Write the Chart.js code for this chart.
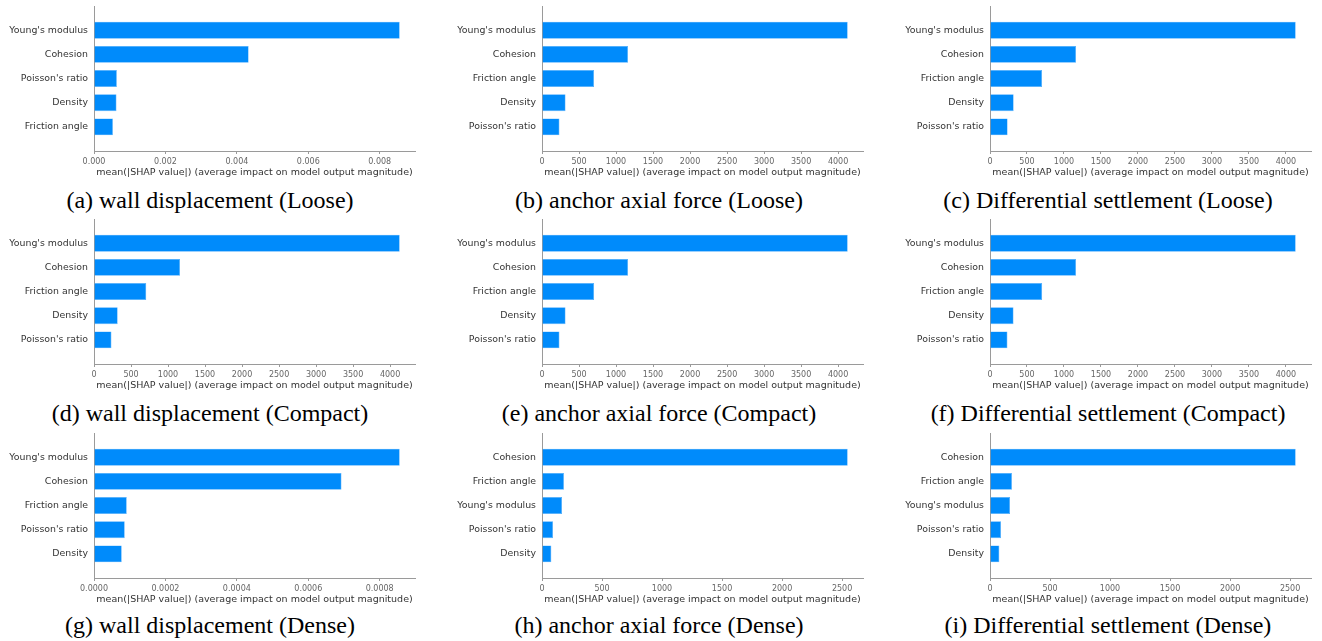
<!DOCTYPE html>
<html>
<head>
<meta charset="utf-8">
<script src="https://cdn.jsdelivr.net/npm/chart.js@4"></script>
<style>
  body { margin: 0; background: #fff; width: 1322px; height: 641px; position: relative; overflow: hidden; }
  .painel { position: absolute; width: 423px; height: 181px; }
  .legenda {
    position: absolute; width: 440px; text-align: center;
    font-family: "Liberation Serif", "Times New Roman", serif; font-size: 24px; color: #000;
    line-height: 26px; white-space: nowrap;
  }
</style>
</head>
<body>
<script>
// Nomes das variáveis (ordem de importância em cada gráfico)
const ordemWallLoose = ["Young's modulus", "Cohesion", "Poisson's ratio", "Density", "Friction angle"];
const ordemLoose = ["Young's modulus", "Cohesion", "Friction angle", "Density", "Poisson's ratio"];
const ordemCompact = ["Young's modulus", "Cohesion", "Friction angle", "Density", "Poisson's ratio"];
const ordemWallDense = ["Young's modulus", "Cohesion", "Friction angle", "Poisson's ratio", "Density"];
const ordemDense = ["Cohesion", "Friction angle", "Young's modulus", "Poisson's ratio", "Density"];

// mean(|SHAP|) de cada variável
const shapWallLoose = [0.00856, 0.00433, 0.00064, 0.00063, 0.00053];
const shapAnchorLoose = [4130, 1162, 703, 318, 236];
const shapSettleLoose = [4132, 1163, 704, 320, 238];
const shapWallCompact = [4130, 1162, 706, 320, 236];
const shapAnchorCompact = [4130, 1163, 704, 318, 236];
const shapSettleCompact = [4132, 1163, 705, 318, 236];
const shapWallDense = [0.000856, 0.000693, 0.0000917, 0.0000861, 0.0000777];
const shapAnchorDense = [2547, 183, 167, 92, 78];
const shapSettleDense = [2547, 183, 167, 92, 78];

// Marcas do eixo x
const ticksWallLoose = [0, 0.002, 0.004, 0.006, 0.008];
const ticksMil = [0, 500, 1000, 1500, 2000, 2500, 3000, 3500, 4000];
const ticksWallDense = [0, 0.0002, 0.0004, 0.0006, 0.0008];
const ticksDense = [0, 500, 1000, 1500, 2000, 2500];

const legendas = [
    "(a) wall displacement (Loose)", "(b) anchor axial force (Loose)", "(c) Differential settlement (Loose)",
    "(d) wall displacement (Compact)", "(e) anchor axial force (Compact)", "(f) Differential settlement (Compact)",
    "(g) wall displacement (Dense)", "(h) anchor axial force (Dense)", "(i) Differential settlement (Dense)"
];

const paineis = [
    { nomes: ordemWallLoose, valores: shapWallLoose, ticks: ticksWallLoose, casas: 3 },
    { nomes: ordemLoose, valores: shapAnchorLoose, ticks: ticksMil, casas: 0 },
    { nomes: ordemLoose, valores: shapSettleLoose, ticks: ticksMil, casas: 0 },
    { nomes: ordemCompact, valores: shapWallCompact, ticks: ticksMil, casas: 0 },
    { nomes: ordemCompact, valores: shapAnchorCompact, ticks: ticksMil, casas: 0 },
    { nomes: ordemCompact, valores: shapSettleCompact, ticks: ticksMil, casas: 0 },
    { nomes: ordemWallDense, valores: shapWallDense, ticks: ticksWallDense, casas: 4 },
    { nomes: ordemDense, valores: shapAnchorDense, ticks: ticksDense, casas: 0 },
    { nomes: ordemDense, valores: shapSettleDense, ticks: ticksDense, casas: 0 }
];

const colunasX = [0, 448, 896];
const linhasY = [0, 213, 427];
const centrosLegenda = [210, 659, 1108];
const linhasLegenda = [200, 413, 625];

const corBarra = '#008bfb';
const corEixo = '#9a9a9a';
const fonteEixo = '"DejaVu Sans", sans-serif';

function criarPainel(p, i) {
    const col = i % 3, lin = Math.floor(i / 3);

    const div = document.createElement('div');
    div.className = 'painel';
    div.style.left = colunasX[col] + 'px';
    div.style.top = linhasY[lin] + 'px';
    div.innerHTML = '<canvas></canvas>';
    document.body.appendChild(div);

    const leg = document.createElement('div');
    leg.className = 'legenda';
    leg.style.left = (centrosLegenda[col] - 220) + 'px';
    leg.style.top = (linhasLegenda[lin] - 13) + 'px';
    leg.textContent = legendas[i];
    document.body.appendChild(leg);

    // categorias vazias nas pontas deixam uma folga de uma barra em cima e embaixo
    const labels = ['', ...p.nomes, ''];
    const dados = [null, ...p.valores, null];

    new Chart(div.querySelector('canvas'), {
        type: 'bar',
        data: {
            labels: labels,
            datasets: [{
                data: dados,
                backgroundColor: corBarra,
                borderColor: '#4fadfc',
                borderWidth: 0.6,
                categoryPercentage: 1,
                barPercentage: 0.7
            }]
        },
        options: {
            indexAxis: 'y',
            responsive: true,
            maintainAspectRatio: false,
            animation: false,
            layout: { padding: { top: 6, right: 8, left: 0, bottom: 0 } },
            plugins: { legend: { display: false }, tooltip: { enabled: false } },
            scales: {
                y: {
                    type: 'category',
                    offset: false,
                    // largura fixa e sem folga extra dos rótulos nas pontas
                    afterFit: s => { s.width = 94; s.paddingTop = 0; s.paddingBottom = 0; },
                    grid: { display: false, drawTicks: false },
                    border: { display: true, color: corEixo, width: 1 },
                    ticks: {
                        padding: 6,
                        color: '#333',
                        font: { family: fonteEixo, size: 9.4 }
                    }
                },
                x: {
                    min: 0,
                    max: Math.max(...p.valores) * 1.05,
                    afterFit: s => { s.height = 30; },
                    afterBuildTicks: s => { s.ticks = p.ticks.map(v => ({ value: v })); },
                    grid: { display: true, drawOnChartArea: false, drawTicks: true, tickLength: 3, tickColor: corEixo },
                    border: { display: true, color: corEixo, width: 1 },
                    ticks: {
                        padding: 3,
                        color: '#666',
                        maxRotation: 0,
                        font: { family: fonteEixo, size: 8 },
                        callback: v => Number(v).toFixed(p.casas)
                    },
                    title: {
                        display: true,
                        text: 'mean(|SHAP value|) (average impact on model output magnitude)',
                        color: '#333',
                        font: { family: fonteEixo, size: 9.5 },
                        padding: { top: 2, bottom: 3 }
                    }
                }
            }
        }
    });
}

paineis.forEach(criarPainel);
</script>
</body>
</html>
